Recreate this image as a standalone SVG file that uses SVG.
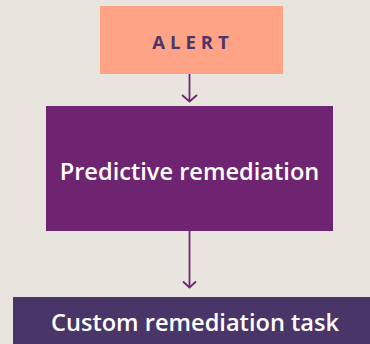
<svg xmlns="http://www.w3.org/2000/svg" width="370" height="344" viewBox="0 0 370 344">
<style>
.conn{fill:none;stroke:#6F2471;stroke-width:1.8;}
.lbl{font-family:"Open Sans","Noto Sans",sans-serif;font-weight:600;fill:#FFFFFF;text-anchor:middle;}
</style>
<rect x="0" y="0" width="370" height="344" fill="#E8E5DE"/>
<g id="alert">
<rect x="100" y="6" width="183" height="68" fill="#FFA387"/>
<text x="193" y="49" font-family="'Open Sans','Noto Sans',sans-serif" font-weight="700" font-size="18.5" letter-spacing="5" fill="#4B3569" text-anchor="middle">ALERT</text>
</g>
<g id="predictive">
<rect x="46" y="106" width="287" height="125" fill="#6F2471"/>
<text class="lbl" x="189.5" y="179.5" font-size="23.6">Predictive remediation</text>
</g>
<g id="custom">
<rect x="13" y="297" width="357" height="47" fill="#4A3568"/>
<text class="lbl" x="195" y="330.5" font-size="23.6">Custom remediation task</text>
</g>
<g id="connectors">
<path class="conn" d="M189.5 74 V101"/>
<path class="conn" d="M182 95 L189.5 101.5 L197 95"/>
<path class="conn" d="M189.5 231 V287"/>
<path class="conn" d="M183 281.5 L189.5 287.5 L196 281.5"/>
</g>
</svg>
